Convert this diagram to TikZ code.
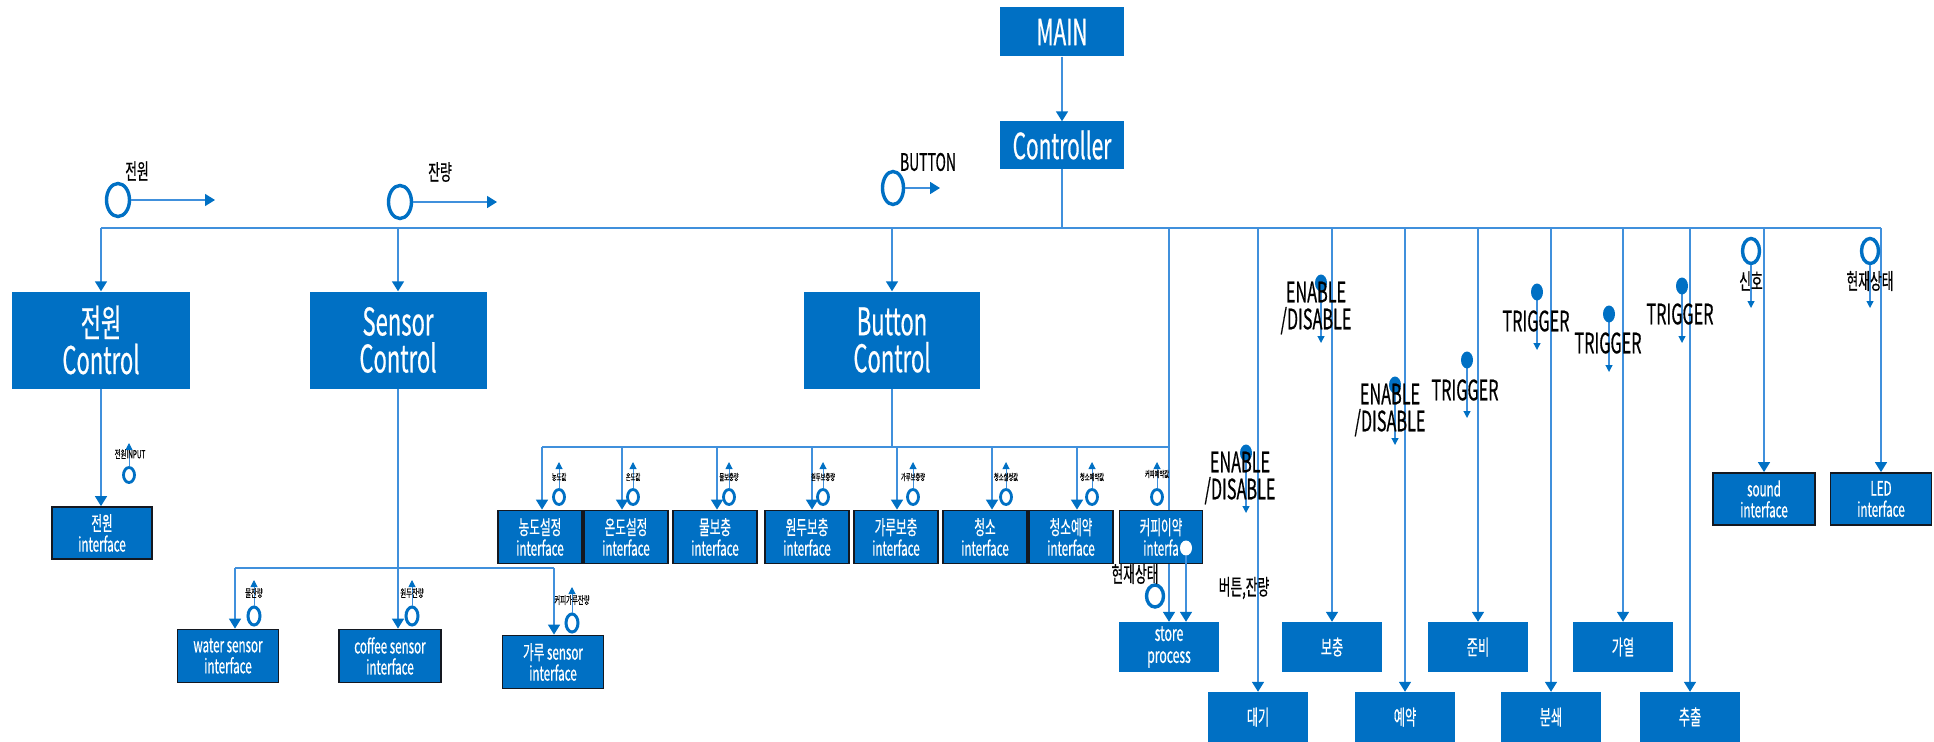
\documentclass[tikz,border=0pt]{standalone}
\usepackage{fontspec}
\setmainfont{Noto Sans CJK KR}[FakeStretch=0.58,FakeBold=0.5]
\usetikzlibrary{arrows.meta,shapes.geometric}
\definecolor{boxblue}{RGB}{0,112,196}
\definecolor{wireblue}{RGB}{64,144,220}
\definecolor{rimblack}{RGB}{20,24,32}

\begin{document}
\begin{tikzpicture}[x=1pt,y=-1pt,
    wire/.style={draw=wireblue,line width=1.6pt},
    arr/.style={wire,-{Triangle[width=12pt,length=10pt,color=boxblue]}},
    sarr/.style={wire,line width=1.2pt,-{Triangle[width=7pt,length=7pt,color=boxblue]}},
    headbox/.style={rectangle,fill=boxblue,text=white,inner sep=0pt,align=center,
        minimum width=124pt,font=\fontsize{36}{36}\selectfont},
    ctl/.style={rectangle,fill=boxblue,text=white,inner sep=0pt,align=center,
        minimum height=97pt,font=\fontsize{38}{37}\selectfont},
    ifc/.style={rectangle,fill=boxblue,draw=rimblack,line width=1.8pt,text=white,inner sep=0pt,
        align=center,minimum width=84pt,minimum height=53pt,font=\fontsize{20}{21}\selectfont},
    stage/.style={rectangle,fill=boxblue,text=white,inner sep=0pt,align=center,
        minimum width=100pt,minimum height=50pt,font=\fontsize{21}{22}\selectfont},
    ring/.style={ellipse,draw=boxblue,fill=white,line width=3.4pt,inner sep=0pt},
    blob/.style={ellipse,fill=boxblue,inner sep=0pt,minimum width=12pt,minimum height=17pt},
    note/.style={inner sep=0pt,align=center,font=\fontsize{28}{27}\selectfont},
    lbl/.style={inner sep=0pt,font=\fontsize{22}{22}\selectfont},
    minilbl/.style={inner sep=0pt,font=\fontsize{9}{9}\selectfont},
    smalllbl/.style={inner sep=0pt,font=\fontsize{11}{11}\selectfont}]
\useasboundingbox (0,0) rectangle (1934,741);

\node[headbox,minimum height=49pt] (main) at (1062,32) {MAIN};
\node[headbox,minimum height=47pt] (ctrl) at (1062,145) {Controller};
\draw[arr] (main) -- (ctrl);

\coordinate (bus) at (0,228);
\node[ctl,minimum width=178pt] (pwrctl) at (101,340) {전원\\Control};
\node[ctl,minimum width=177pt] (senctl) at (398,340) {Sensor\\Control};
\node[ctl,minimum width=176pt] (btnctl) at (892,340) {Button\\Control};

\node[stage] (store) at (1169,647) {store\\process};
\node[stage] (wait) at (1258,717) {대기};
\node[stage] (refill) at (1332,647) {보충};
\node[stage] (resv) at (1405,717) {예약};
\node[stage] (prep) at (1478,647) {준비};
\node[stage] (grind) at (1551,717) {분쇄};
\node[stage] (heat) at (1623,647) {가열};
\node[stage] (brew) at (1690,717) {추출};
\node[ifc,minimum width=102pt,minimum height=52pt] (sound) at (1764,499) {sound\\interface};
\node[ifc,minimum width=101pt,minimum height=52pt] (led) at (1881,499) {LED\\interface};

\draw[wire] (pwrctl.north |- bus) -- (led.north |- bus);
\draw[wire] (ctrl) -- (ctrl |- bus);
\foreach \n in {pwrctl,senctl,btnctl,store,wait,refill,resv,prep,grind,heat,brew,sound,led}
    \draw[arr] (\n.north |- bus) -- (\n.north);

\node[ring,minimum width=23pt,minimum height=33pt] (pwrsig) at (118,200) {};
\coordinate (pwrend) at (215,200);
\draw[arr] (pwrsig) -- (pwrend);
\node[lbl] (pwrtxt) at (137,171) {전원};
\node[ring,minimum width=23pt,minimum height=33pt] (lvlsig) at (400,202) {};
\coordinate (lvlend) at (497,202);
\draw[arr] (lvlsig) -- (lvlend);
\node[lbl] (lvltxt) at (440,172) {잔량};
\node[ring,minimum width=21pt,minimum height=33pt] (btnsig) at (893,188) {};
\coordinate (btnend) at (940,188);
\draw[arr] (btnsig) -- (btnend);
\node[lbl,font=\fontsize{24}{24}\selectfont] (btntxt) at (928,162) {BUTTON};

\foreach \x/\y/\dx/\dy/\len/\txt [count=\i] in {
    1246/453/-6/25/60/{ENABLE\\/DISABLE}, 1321/283/-5/25/60/{ENABLE\\/DISABLE},
    1395/385/-5/25/60/{ENABLE\\/DISABLE}, 1467/360/-2/30/58/TRIGGER,
    1537/292/-1/29/58/TRIGGER, 1609/314/-1/29/58/TRIGGER, 1682/286/-2/28/57/TRIGGER}{
    \coordinate (sg\i) at (\x,\y);
    \coordinate (sgend\i) at (\x,\y+\len);
    \draw[sarr] (sg\i) -- (sgend\i);
    \node[blob] (sgdot\i) at (sg\i) {};
    \node[note] (sgtxt\i) at (\x+\dx,\y+\dy) {\txt};
}

\foreach \x/\txt [count=\i] in {1751/신호, 1870/현재상태}{
    \node[ring,minimum width=17pt,minimum height=25pt] (st\i) at (\x,251) {};
    \coordinate (stend\i) at (\x,308);
    \draw[sarr] (st\i) -- (stend\i);
    \node[lbl] (sttxt\i) at (\x,281) {\txt};
}

\coordinate (sub) at (0,447);
\draw[wire] (btnctl) -- (btnctl |- sub);
\foreach \n/\cx/\ax/\rx/\val/\txt in {
    nd/540/542/559/농도값/농도설정, td/626/622/633/온도값/온도설정,
    wr/715/717/729/물보충량/물보충, br/807/812/823/원두보충량/원두보충,
    pr/896/897/913/가루보충량/가루보충, cl/985/992/1006/청소설정값/청소,
    cr/1071/1077/1092/청소예약값/청소예약}{
    \node[ifc] (\n) at (\cx,537) {\txt\\interface};
    \coordinate (in\n) at (\ax,447);
    \draw[arr] (in\n) -- (in\n |- \n.north);
    \node[ring,line width=2.8pt,minimum width=11pt,minimum height=15pt] (ring\n) at (\rx,497) {};
    \coordinate (val\n) at (\rx,462);
    \draw[sarr,line width=1pt] (ring\n) -- (val\n);
    \node[minilbl] (tag\n) at (\rx,477) {\val};
}
\draw[wire] (innd) -- (store.north |- innd);

\node[ifc,minimum width=83pt] (cf) at (1161,537) {커피이약\\interfa\hspace{8pt}};
\node[ring,line width=2.8pt,minimum width=11pt,minimum height=15pt] (cfring) at (1157,497) {};
\coordinate (cfval) at (1157,462);
\draw[sarr,line width=1pt] (cfring) -- (cfval);
\node[minilbl] (cftag) at (1157,474) {커피예약값};
\node[ellipse,fill=white,inner sep=0pt,minimum width=12pt,minimum height=15pt] (cfdot) at (1186,548) {};
\draw[arr] (cfdot) -- (cfdot |- store.north);
\node[ring,minimum width=17pt,minimum height=22pt] (nowsig) at (1155,596) {};
\node[lbl] (nowtxt) at (1135,574) {현재상태};
\node[lbl] (keytxt) at (1244,588) {버튼,잔량};

\node[ifc,minimum width=100pt,minimum height=52pt] (pwrif) at (102,533) {전원\\interface};
\draw[arr] (pwrctl.south) -- (pwrctl.south |- pwrif.north);
\node[ring,line width=2.8pt,minimum width=11pt,minimum height=15pt] (pwrring) at (129,475) {};
\coordinate (pwrval) at (129,443);
\draw[sarr,line width=1pt] (pwrring) -- (pwrval);
\node[smalllbl] (pwrtag) at (130,454) {전원INPUT};

\node[ifc,minimum width=101pt] (wsn) at (228,656) {water sensor\\interface};
\node[ifc,minimum width=102pt] (csn) at (390,656) {coffee sensor\\interface};
\node[ifc,minimum width=101pt] (gsn) at (553,662) {가루 sensor\\interface};
\draw[arr] (senctl.south) -- (senctl.south |- csn.north);
\coordinate (wsin) at (235,568);
\coordinate (gsin) at (554,568);
\draw[wire] (wsin) -- (gsin);
\draw[arr] (wsin) -- (wsin |- wsn.north);
\draw[arr] (gsin) -- (gsin |- gsn.north);
\foreach \n/\x/\y/\val in {ws/254/616/물잔량, cs/412/616/원두잔량, gs/572/623/커피가루잔량}{
    \node[ring,line width=3pt,minimum width=12pt,minimum height=18pt] (ring\n) at (\x,\y) {};
    \coordinate (val\n) at (\x,\y-36);
    \draw[sarr,line width=1pt] (ring\n) -- (val\n);
    \node[smalllbl] (tag\n) at (\x,\y-23) {\val};
}
\end{tikzpicture}
\end{document}
